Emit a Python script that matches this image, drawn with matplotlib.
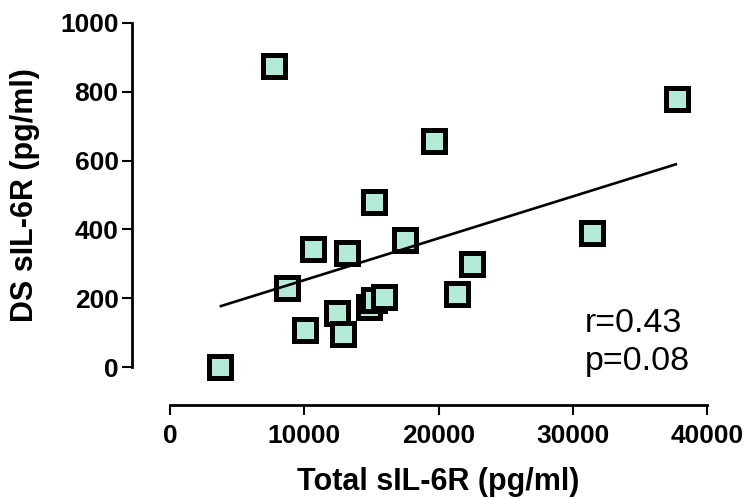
import numpy as np
import matplotlib
matplotlib.use("Agg")
import matplotlib.pyplot as plt

# values
total_sil6r = [3700, 7766, 8712, 10030, 10625, 12435, 12882, 13180, 14840,
               15190, 15898, 15190, 17520, 19657, 21370, 22487, 31445, 37751]
ds_sil6r = [0, 874, 229, 107, 344, 158, 96, 333, 174,
            195, 205, 479, 368, 657, 214, 300, 389, 778]
x_ticks = [0, 10000, 20000, 30000, 40000]
y_ticks = [0, 200, 400, 600, 800, 1000]
stats_lines = ["r=0.43", "p=0.08"]

plt.rcParams["font.family"] = ["Liberation Sans", "DejaVu Sans"]

fig = plt.figure(figsize=(7.47, 4.99), dpi=100)
ax = fig.add_axes([170 / 747, (499 - 367.3) / 499, 537.3 / 747, 344.6 / 499])

x = np.array(total_sil6r, dtype=float)
y = np.array(ds_sil6r, dtype=float)

# squares, then the regression line on top
ax.plot(x, y, linestyle="none", marker="s", markersize=16,
        markerfacecolor="#B4EAD8", markeredgecolor="black",
        markeredgewidth=3.6, clip_on=False, zorder=3)

slope, intercept = np.polyfit(x, y, 1)
xs = np.array([x.min(), x.max()])
ax.plot(xs, slope * xs + intercept, color="black", linewidth=1.9,
        solid_capstyle="butt", clip_on=False, zorder=4)

ax.set_xlim(0, 40000)
ax.set_ylim(0, 1000)
ax.set_xticks(x_ticks)
ax.set_yticks(y_ticks)

# prism-style detached axes
for side in ["top", "right"]:
    ax.spines[side].set_visible(False)
for side in ["left", "bottom"]:
    ax.spines[side].set_linewidth(2.0)
    ax.spines[side].set_position(("outward", 27.5))
ax.spines["left"].set_bounds(0, 1000)
ax.spines["bottom"].set_bounds(0, 40000)
ax.tick_params(axis="both", direction="out", length=7, width=1.5,
               color="black", labelsize=19)
ax.tick_params(axis="y", pad=2.5)
ax.tick_params(axis="x", pad=6)
for lbl in ax.get_xticklabels() + ax.get_yticklabels():
    lbl.set_fontweight("bold")
ax.patch.set_visible(False)

fig.text(438 / 747, (499 - 490) / 499, "Total sIL-6R (pg/ml)", ha="center",
         va="baseline", fontsize=22, fontweight="bold")
fig.text(25 / 747, (499 - 195) / 499, "DS sIL-6R (pg/ml)", ha="center",
         va="center", rotation=90, fontsize=22, fontweight="bold")

fig.text(585 / 747, (499 - 331.7) / 499, stats_lines[0], ha="left",
         va="baseline", fontsize=24.5)
fig.text(585 / 747, (499 - 370) / 499, stats_lines[1], ha="left",
         va="baseline", fontsize=24.5)

fig.savefig("out.png", dpi=100)
